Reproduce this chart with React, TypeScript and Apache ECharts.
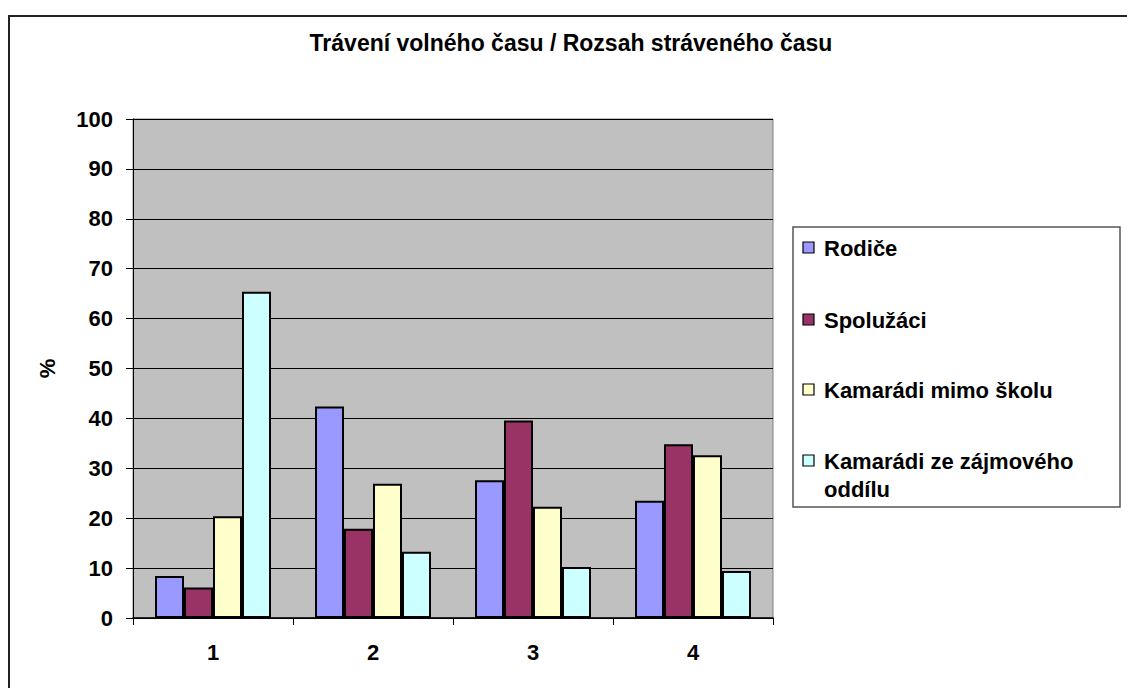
import React, { useEffect, useRef } from "react";
import * as echarts from "echarts";

const titleText = "Trávení volného času / Rozsah stráveného času";
const categories = ["1", "2", "3", "4"];
const seriesNames = ["Rodiče", "Spolužáci", "Kamarádi mimo školu", "Kamarádi ze zájmového oddílu"];
const rodice = [8.4, 42.4, 27.6, 23.5];
const spoluzaci = [6.1, 17.9, 39.6, 34.8];
const kamaradiMimo = [20.4, 26.9, 22.3, 32.6];
const kamaradiZajmu = [65.4, 13.3, 10.2, 9.4];
const seriesData = [rodice, spoluzaci, kamaradiMimo, kamaradiZajmu];
const colors = ["#9999FF", "#993366", "#FFFFCC", "#CCFFFF"];
const yMin = 0;
const yMax = 100;
const yInterval = 10;
const yAxisName = "%";

const FONT = "'Liberation Sans', Arial, sans-serif";

export default function App() {
  const ref = useRef<HTMLDivElement>(null);
  useEffect(() => {
    document.body.style.margin = "0";
    if (!ref.current) return;
    const chart = echarts.init(ref.current, undefined, { renderer: "svg" });

    const legendX = 793;
    const legendY = 227;
    const legendItemsY = [248, 320, 390, 461];
    const legendGraphics: any[] = [
      {
        type: "rect",
        shape: { x: legendX, y: legendY, width: 327, height: 280 },
        style: { fill: "#FFFFFF", stroke: "#555555", lineWidth: 1.5 },
        z: 10,
      },
    ];
    seriesNames.forEach((name, i) => {
      legendGraphics.push({
        type: "rect",
        shape: { x: 803, y: legendItemsY[i] - 6, width: 11, height: 11 },
        style: { fill: colors[i], stroke: "#000000", lineWidth: 1.2 },
        z: 11,
      });
      legendGraphics.push({
        type: "text",
        x: 824,
        y: legendItemsY[i] - 14,
        style: {
          text: name,
          font: `bold 22px ${FONT}`,
          fill: "#000000",
          width: 290,
          overflow: "break",
          lineHeight: 28,
          verticalAlign: "top",
          align: "left",
        },
        z: 11,
      });
    });

    chart.setOption({
      animation: false,
      backgroundColor: "#FFFFFF",
      title: {
        text: titleText,
        left: 571,
        top: 31,
        padding: 0,
        textAlign: "center",
        textStyle: { fontFamily: FONT, fontWeight: "bold", fontSize: 23, color: "#000" },
      },
      grid: {
        left: 133,
        top: 119,
        width: 640,
        height: 499,
        show: true,
        backgroundColor: "#C0C0C0",
        borderColor: "#808080",
        borderWidth: 1,
        containLabel: false,
      },
      xAxis: {
        type: "category",
        data: categories,
        axisLine: { show: true, lineStyle: { color: "#000", width: 1.5 } },
        axisTick: { show: true, alignWithLabel: false, length: 7, lineStyle: { color: "#000" } },
        axisLabel: { color: "#000", fontFamily: FONT, fontWeight: "bold", fontSize: 22, margin: 23 },
        splitLine: { show: false },
      },
      yAxis: {
        type: "value",
        min: yMin,
        max: yMax,
        interval: yInterval,
        name: yAxisName,
        nameLocation: "middle",
        nameRotate: 90,
        nameGap: 75,
        nameTextStyle: { color: "#000", fontFamily: FONT, fontWeight: "bold", fontSize: 22 },
        axisLine: { show: true, lineStyle: { color: "#000", width: 1 } },
        axisTick: { show: true, length: 7, lineStyle: { color: "#000" } },
        axisLabel: { color: "#000", fontFamily: FONT, fontWeight: "bold", fontSize: 22, margin: 20 },
        splitLine: { show: true, lineStyle: { color: "#000", width: 1 } },
      },
      series: seriesNames.map((name, i) => ({
        name,
        type: "bar",
        data: seriesData[i],
        barWidth: 29,
        barGap: "0%",
        itemStyle: { color: colors[i], borderColor: "#000", borderWidth: 2 },
      })),
      graphic: [
        {
          type: "rect",
          shape: { x: 9, y: 16, width: 1200, height: 700 },
          style: { fill: "none", stroke: "#222222", lineWidth: 2 },
          z: 20,
          silent: true,
        },
        ...legendGraphics,
      ],
    });
    return () => chart.dispose();
  }, []);
  return <div ref={ref} style={{ width: 1127, height: 688 }} />;
}
